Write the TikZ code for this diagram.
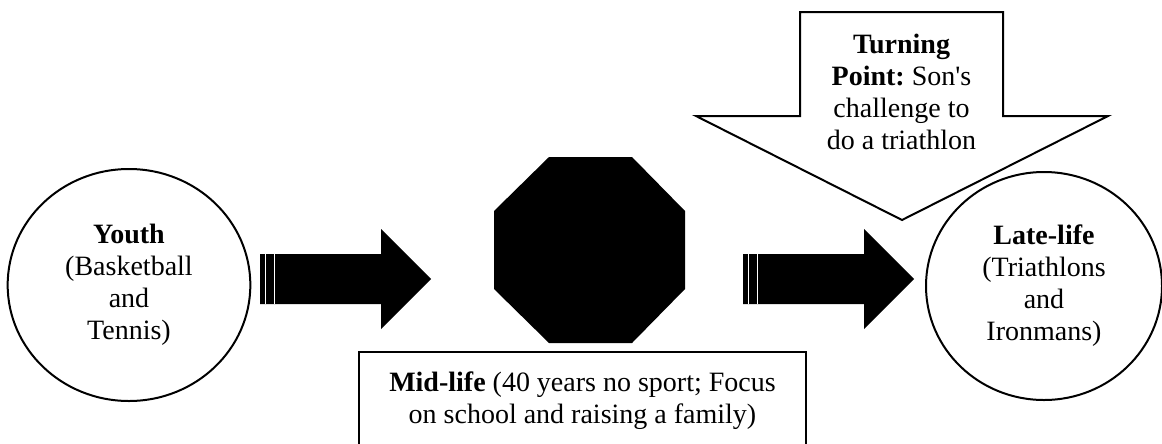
\documentclass[tikz,border=0pt]{standalone}
\usepackage{fontspec}
\setmainfont{Liberation Serif}
\usetikzlibrary{shapes.geometric}
\frenchspacing
\begin{document}
\begin{tikzpicture}[x=0.75pt,y=-0.75pt,
  lbl/.style={font=\fontsize{21}{24}\selectfont, align=center, inner sep=0pt},
  outl/.style={draw=black, line width=1.5pt, fill=white, line join=miter},
  stage/.style={ellipse, outl, lbl},
  blockarrow/.style={fill=black},
  stripe/.style={draw=white, line width=0.6pt}]
\clip (0,0) rectangle (1162,443);
\fill[white] (0,0) rectangle (1162,443);

% stages
\node[stage, minimum width=182pt, minimum height=174pt] (youth) at (129,285) {\textbf{Youth}\\(Basketball\\and\\Tennis)};
\node[stage, minimum width=177pt, minimum height=171pt] (late) at (1044,286) {\textbf{Late-life}\\(Triathlons\\and\\Ironmans)};

% octagon (stop)
\fill[black] (549,157) -- (632,157) -- (685,211) -- (685,289) -- (632,343) -- (549,343) -- (494,289) -- (494,211) -- cycle;
\coordinate (stop) at (589.5,250);

% striped arrows
\fill[blockarrow] (260,254) -- (381,254) -- (381,229) -- (431,279) -- (381,329) -- (381,304) -- (260,304) -- cycle;
\draw[stripe] (265,254) -- (265,304);
\draw[stripe] (274,254) -- (274,304);
\begin{scope}[shift={(483,0)}]
\fill[blockarrow] (260,254) -- (381,254) -- (381,229) -- (431,279) -- (381,329) -- (381,304) -- (260,304) -- cycle;
\draw[stripe] (265,254) -- (265,304);
\draw[stripe] (274,254) -- (274,304);
\end{scope}

% turning point callout
\draw[outl] (800,12) -- (1003,12) -- (1003,116) -- (1108,116) -- (902,220) -- (696,116) -- (800,116) -- cycle;
\node[lbl] (turn) at (901.5,92) {\textbf{Turning}\\\textbf{Point:} Son\textquotesingle s\\challenge to\\do a triathlon};

% mid-life box
\draw[outl] (359,352) rectangle (806,470);
\node[lbl] (mid) at (582.5,401) {\textbf{Mid-life} (40 years no sport; Focus\\on school and raising a family)};
\end{tikzpicture}
\end{document}
